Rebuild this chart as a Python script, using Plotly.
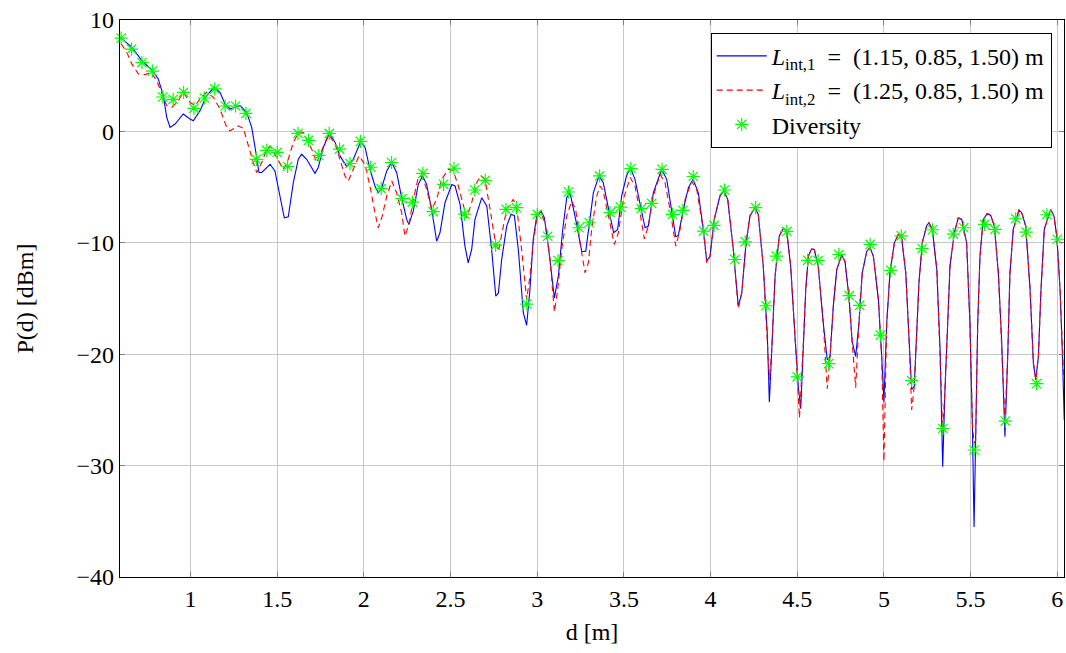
import plotly.graph_objects as go

# ---- data ----
blue_x = [0.600, 0.661, 0.722, 0.782, 0.814, 0.843, 0.863, 0.882, 0.911, 0.958, 0.997, 1.016, 1.055, 1.093,
          1.136, 1.170, 1.199, 1.228, 1.267, 1.286, 1.324, 1.353, 1.382, 1.395, 1.411, 1.459, 1.487, 1.516,
          1.541, 1.564, 1.593, 1.622, 1.641, 1.670, 1.718, 1.737, 1.766, 1.801, 1.834, 1.862, 1.901, 1.939,
          1.982, 2.007, 2.035, 2.064, 2.083, 2.103, 2.132, 2.161, 2.189, 2.218, 2.247, 2.260, 2.285, 2.314,
          2.339, 2.362, 2.391, 2.420, 2.439, 2.468, 2.507, 2.526, 2.555, 2.583, 2.602, 2.622, 2.641, 2.680,
          2.709, 2.737, 2.761, 2.776, 2.795, 2.824, 2.849, 2.868, 2.891, 2.920, 2.939, 2.958, 2.977, 2.997,
          3.022, 3.041, 3.064, 3.099, 3.122, 3.145, 3.170, 3.189, 3.218, 3.257, 3.280, 3.304, 3.324, 3.356,
          3.381, 3.410, 3.441, 3.464, 3.487, 3.516, 3.538, 3.564, 3.593, 3.622, 3.641, 3.670, 3.718, 3.747,
          3.776, 3.799, 3.814, 3.843, 3.872, 3.899, 3.929, 3.958, 3.978, 3.997, 4.021, 4.054, 4.077, 4.099,
          4.131, 4.160, 4.180, 4.203, 4.227, 4.256, 4.275, 4.304, 4.327, 4.339, 4.353, 4.372, 4.396, 4.420,
          4.439, 4.462, 4.487, 4.506, 4.520, 4.535, 4.549, 4.564, 4.583, 4.598, 4.621, 4.650, 4.673, 4.689,
          4.708, 4.728, 4.756, 4.775, 4.798, 4.817, 4.837, 4.856, 4.875, 4.901, 4.920, 4.939, 4.968, 4.987,
          5.000, 5.016, 5.035, 5.060, 5.083, 5.102, 5.126, 5.145, 5.160, 5.175, 5.189, 5.202, 5.221, 5.247,
          5.260, 5.279, 5.305, 5.324, 5.339, 5.352, 5.368, 5.381, 5.406, 5.429, 5.449, 5.477, 5.496, 5.510,
          5.520, 5.529, 5.541, 5.554, 5.573, 5.596, 5.616, 5.637, 5.660, 5.679, 5.698, 5.714, 5.727, 5.746,
          5.779, 5.795, 5.818, 5.843, 5.862, 5.876, 5.891, 5.906, 5.925, 5.962, 5.981, 5.997, 6.016, 6.030,
          6.040]
blue_y = [8.38, 7.57, 6.31, 5.46, 4.71, 3.21, 1.26, 0.36, 0.66, 1.56, 1.11, 0.95, 1.86, 3.21,
          3.96, 3.51, 2.46, 2.01, 2.22, 2.31, 1.71, 0.36, -2.34, -3.69, -3.69, -2.95, -3.55, -5.65,
          -7.75, -7.66, -4.60, -2.50, -2.05, -2.50, -3.76, -3.24, -1.44, -0.18, -0.99, -2.20, -3.15, -2.50,
          -0.90, -1.44, -3.40, -4.90, -5.50, -5.05, -3.55, -2.79, -3.69, -5.95, -7.90, -8.35, -7.15, -4.75,
          -4.00, -4.75, -7.00, -9.86, -9.10, -6.40, -4.77, -4.90, -6.55, -10.30, -11.80, -10.60, -7.90, -5.95,
          -6.70, -10.60, -14.80, -14.50, -11.50, -8.50, -7.45, -7.54, -10.60, -16.30, -17.40, -14.20, -9.70, -7.60,
          -7.15, -7.75, -10.30, -14.95, -13.00, -9.10, -5.95, -5.50, -7.60, -10.80, -10.75, -7.90, -5.50, -4.00,
          -4.60, -6.85, -9.10, -8.80, -5.80, -3.94, -3.30, -4.30, -6.40, -8.65, -8.50, -5.50, -3.40, -4.30,
          -7.15, -9.46, -9.34, -7.00, -5.05, -4.30, -5.50, -8.80, -11.66, -11.20, -7.90, -5.80, -5.35, -6.10,
          -10.60, -15.70, -14.50, -10.30, -7.60, -6.85, -7.45, -12.10, -18.10, -24.30, -19.60, -13.00, -9.40, -8.70,
          -8.95, -12.10, -18.40, -22.90, -24.90, -19.00, -14.20, -11.20, -10.54, -10.60, -12.10, -17.20, -20.50, -20.20,
          -15.70, -12.40, -11.10, -11.66, -14.80, -18.90, -20.20, -17.20, -12.70, -10.75, -10.45, -11.20, -15.10, -20.20,
          -24.30, -17.20, -12.70, -10.00, -9.25, -9.55, -12.70, -18.70, -23.15, -22.90, -18.70, -13.60, -10.00, -8.44,
          -8.20, -8.80, -12.40, -19.60, -30.10, -23.20, -17.20, -12.10, -9.10, -7.75, -7.90, -10.00, -17.20, -26.20,
          -35.50, -27.70, -17.20, -11.20, -7.90, -7.36, -7.54, -8.50, -12.70, -18.70, -27.40, -20.20, -12.70, -8.80,
          -7.06, -7.30, -8.50, -14.20, -20.80, -22.30, -20.20, -14.20, -8.80, -7.00, -7.60, -9.40, -14.20, -20.20,
          -25.90]

red_x = [0.600, 0.632, 0.661, 0.699, 0.738, 0.772, 0.805, 0.834, 0.863, 0.892, 0.930, 0.958, 0.997, 1.026,
         1.055, 1.093, 1.132, 1.170, 1.209, 1.228, 1.276, 1.305, 1.333, 1.362, 1.382, 1.411, 1.440, 1.459,
         1.487, 1.516, 1.535, 1.564, 1.593, 1.626, 1.651, 1.680, 1.708, 1.728, 1.766, 1.795, 1.834, 1.862,
         1.891, 1.910, 1.939, 1.972, 2.007, 2.035, 2.064, 2.083, 2.106, 2.132, 2.161, 2.189, 2.218, 2.237,
         2.260, 2.285, 2.314, 2.337, 2.362, 2.391, 2.420, 2.449, 2.487, 2.516, 2.545, 2.564, 2.593, 2.622,
         2.651, 2.676, 2.699, 2.728, 2.756, 2.776, 2.799, 2.824, 2.862, 2.882, 2.910, 2.939, 2.958, 2.977,
         2.997, 3.016, 3.045, 3.074, 3.099, 3.118, 3.141, 3.170, 3.199, 3.222, 3.247, 3.276, 3.295, 3.314,
         3.343, 3.362, 3.381, 3.410, 3.445, 3.468, 3.497, 3.536, 3.564, 3.593, 3.618, 3.641, 3.670, 3.709,
         3.737, 3.766, 3.799, 3.824, 3.853, 3.891, 3.920, 3.958, 3.978, 3.997, 4.021, 4.054, 4.077, 4.099,
         4.131, 4.160, 4.180, 4.203, 4.227, 4.256, 4.275, 4.304, 4.327, 4.339, 4.353, 4.372, 4.396, 4.420,
         4.439, 4.462, 4.487, 4.513, 4.535, 4.549, 4.564, 4.583, 4.598, 4.621, 4.650, 4.673, 4.689,
         4.708, 4.728, 4.756, 4.775, 4.798, 4.817, 4.837, 4.856, 4.875, 4.901, 4.920, 4.939, 4.968, 4.987,
         5.000, 5.016, 5.035, 5.060, 5.083, 5.102, 5.126, 5.145, 5.160, 5.175, 5.189, 5.202, 5.221, 5.247,
         5.260, 5.279, 5.305, 5.324, 5.339, 5.352, 5.368, 5.381, 5.406, 5.429, 5.449, 5.477, 5.496, 5.510,
         5.520, 5.529, 5.541, 5.554, 5.573, 5.596, 5.616, 5.637, 5.660, 5.679, 5.698, 5.714, 5.727, 5.746,
         5.779, 5.795, 5.818, 5.843, 5.862, 5.876, 5.891, 5.906, 5.925, 5.962, 5.981, 5.997, 6.016, 6.030,
         6.040]
red_y = [7.86, 7.12, 6.06, 5.16, 5.10, 5.31, 4.56, 3.36, 2.31, 2.16, 2.76, 3.51, 2.60, 2.31,
         2.91, 3.51, 3.06, 2.00, 0.36, 0.05, 0.50, 0.27, -1.30, -2.80, -3.69, -2.80, -1.60, -1.30,
         -2.05, -2.95, -3.40, -2.50, -0.99, -0.03, -0.09, -0.99, -1.89, -2.80, -1.30, -0.30, -1.10, -2.60,
         -4.00, -4.45, -3.40, -2.20, -3.00, -4.90, -7.30, -8.65, -7.60, -5.80, -4.45, -5.50, -7.30, -9.40,
         -8.35, -6.10, -4.14, -4.00, -5.20, -7.00, -6.10, -4.30, -3.40, -3.55, -4.90, -6.10, -7.75, -6.40,
         -4.60, -3.94, -4.30, -7.00, -9.70, -10.75, -9.10, -7.00, -6.10, -6.85, -10.60, -15.10, -13.00, -10.00,
         -7.90, -7.15, -8.20, -11.50, -16.20, -14.20, -10.60, -7.60, -6.25, -7.00, -10.00, -12.70, -11.80, -8.80,
         -5.80, -4.90, -5.35, -7.60, -10.15, -9.10, -6.10, -4.14, -4.90, -7.30, -9.64, -8.50, -5.80, -3.85,
         -4.60, -7.00, -10.30, -8.80, -6.10, -4.50, -5.20, -8.80, -11.80, -11.20, -7.90, -5.80, -5.35, -6.10,
         -10.60, -15.90, -14.50, -10.30, -7.60, -6.85, -7.45, -12.10, -18.10, -22.30, -19.60, -13.00, -9.40, -8.70,
         -8.95, -12.10, -18.40, -25.70, -19.00, -14.20, -11.20, -10.54, -10.60, -12.10, -17.20, -23.10, -20.20,
         -15.70, -12.40, -11.10, -11.66, -14.80, -18.90, -23.00, -17.20, -12.70, -10.75, -10.45, -11.20, -15.10, -20.20,
         -29.60, -17.20, -12.70, -10.00, -9.25, -9.55, -12.70, -18.70, -25.00, -22.90, -18.70, -13.60, -10.00, -8.44,
         -8.20, -8.80, -12.40, -19.60, -26.80, -23.20, -17.20, -12.10, -9.10, -7.75, -7.90, -10.00, -17.20, -26.20,
         -28.00, -27.70, -17.20, -11.20, -7.90, -7.36, -7.54, -8.50, -12.70, -18.70, -26.00, -20.20, -12.70, -8.80,
         -7.06, -7.30, -8.50, -14.20, -20.80, -22.30, -20.20, -14.20, -8.80, -7.00, -7.60, -9.40, -14.20, -19.50,
         -23.00]

div_x = [0.60, 0.66, 0.72, 0.78, 0.84, 0.90, 0.96, 1.02, 1.08, 1.14, 1.20, 1.26, 1.32, 1.38, 1.44, 1.50,
         1.56, 1.62, 1.68, 1.74, 1.80, 1.86, 1.92, 1.98, 2.04, 2.10, 2.16, 2.22, 2.28, 2.34, 2.40, 2.46,
         2.52, 2.58, 2.64, 2.70, 2.76, 2.82, 2.88, 2.94, 3.00, 3.06, 3.12, 3.18, 3.24, 3.30, 3.36, 3.42,
         3.48, 3.54, 3.60, 3.66, 3.72, 3.78, 3.84, 3.90, 3.96, 4.02, 4.08, 4.14, 4.20, 4.26, 4.32, 4.38,
         4.44, 4.50, 4.56, 4.62, 4.68, 4.74, 4.80, 4.86, 4.92, 4.98, 5.04, 5.10, 5.16, 5.22, 5.28, 5.34,
         5.40, 5.46, 5.52, 5.58, 5.64, 5.70, 5.76, 5.82, 5.88, 5.94, 6.00, 6.04]
div_y = [8.38, 7.39, 6.18, 5.41, 3.09, 2.88, 3.51, 2.07, 3.00, 3.81, 2.28, 2.28, 1.62, -2.52, -1.71, -1.89,
         -3.15, -0.18, -0.81, -2.16, -0.18, -1.59, -2.88, -0.90, -3.22, -5.14, -2.79, -6.04, -6.34, -3.76, -7.21, -4.75,
         -3.31, -7.42, -5.26, -4.39, -10.20, -7.00, -6.85, -15.50, -7.45, -9.41, -11.60, -5.44, -8.65, -8.20, -4.00, -7.30,
         -6.79, -3.33, -6.94, -6.46, -3.40, -7.45, -7.09, -4.05, -8.95, -8.44, -5.26, -11.50, -9.91, -6.85, -15.65, -11.20,
         -8.98, -22.03, -11.57, -11.59, -20.85, -11.05, -14.75, -15.62, -10.15, -18.29, -12.47, -9.37, -22.38, -10.51, -8.83, -26.67,
         -9.22, -8.65, -28.60, -8.35, -8.80, -26.00, -7.84, -9.05, -22.65, -7.48, -9.68, -19.30]

x_ticks = [1, 1.5, 2, 2.5, 3, 3.5, 4, 4.5, 5, 5.5, 6]
x_tick_text = ["1", "1.5", "2", "2.5", "3", "3.5", "4", "4.5", "5", "5.5", "6"]
y_ticks = [-40, -30, -20, -10, 0, 10]
y_tick_text = ["\u221240", "\u221230", "\u221220", "\u221210", "0", "10"]

SP = "\u2002"  # en space around the equals sign, like TeX math spacing
name_blue = "<i>L</i><sub>int,1</sub>" + SP + "=" + SP + "(1.15, 0.85, 1.50) m"
name_red = "<i>L</i><sub>int,2</sub>" + SP + "=" + SP + "(1.25, 0.85, 1.50) m"
name_div = "Diversity"

FONT = "Liberation Serif"

fig = go.Figure()
fig.add_trace(go.Scatter(x=blue_x, y=blue_y, mode="lines", name=name_blue,
                         line=dict(color="#0000ff", width=1.1)))
fig.add_trace(go.Scatter(x=red_x, y=red_y, mode="lines", name=name_red,
                         line=dict(color="#ff0000", width=1.1, dash="6px,4px")))
fig.add_trace(go.Scatter(x=div_x, y=div_y, mode="markers", name=name_div, cliponaxis=False,
                         marker=dict(symbol="asterisk-open", size=11, color="#00ff00",
                                     line=dict(color="#00ff00", width=1.2))))

axis_common = dict(showline=True, linecolor="black", linewidth=1.2, mirror="ticks",
                   ticks="inside", ticklen=5, tickcolor="#808080", tickwidth=1,
                   showgrid=True, gridcolor="#c8c8c8", gridwidth=1, zeroline=False,
                   tickfont=dict(family=FONT, size=24, color="black"))

fig.update_xaxes(range=[0.5933, 6.0387], tickvals=x_ticks, ticktext=x_tick_text,
                 title=dict(text="d [m]", font=dict(family=FONT, size=24, color="black"), standoff=12),
                 **axis_common)
fig.update_yaxes(range=[-40, 10], tickvals=y_ticks, ticktext=y_tick_text,
                 title=dict(text="P(d) [dBm]", font=dict(family=FONT, size=24, color="black"), standoff=36),
                 **axis_common)

fig.update_layout(
    width=1066, height=653,
    margin=dict(l=120, r=2, t=20, b=76),
    plot_bgcolor="white", paper_bgcolor="white",
    font=dict(family=FONT, size=23, color="black"),
    legend=dict(x=0.987, y=0.977, xanchor="right", yanchor="top",
                bgcolor="white", bordercolor="black", borderwidth=1,
                font=dict(family=FONT, size=24, color="black"),
                tracegroupgap=0, itemwidth=50),
    showlegend=True,
)

fig.write_html("out.html")
